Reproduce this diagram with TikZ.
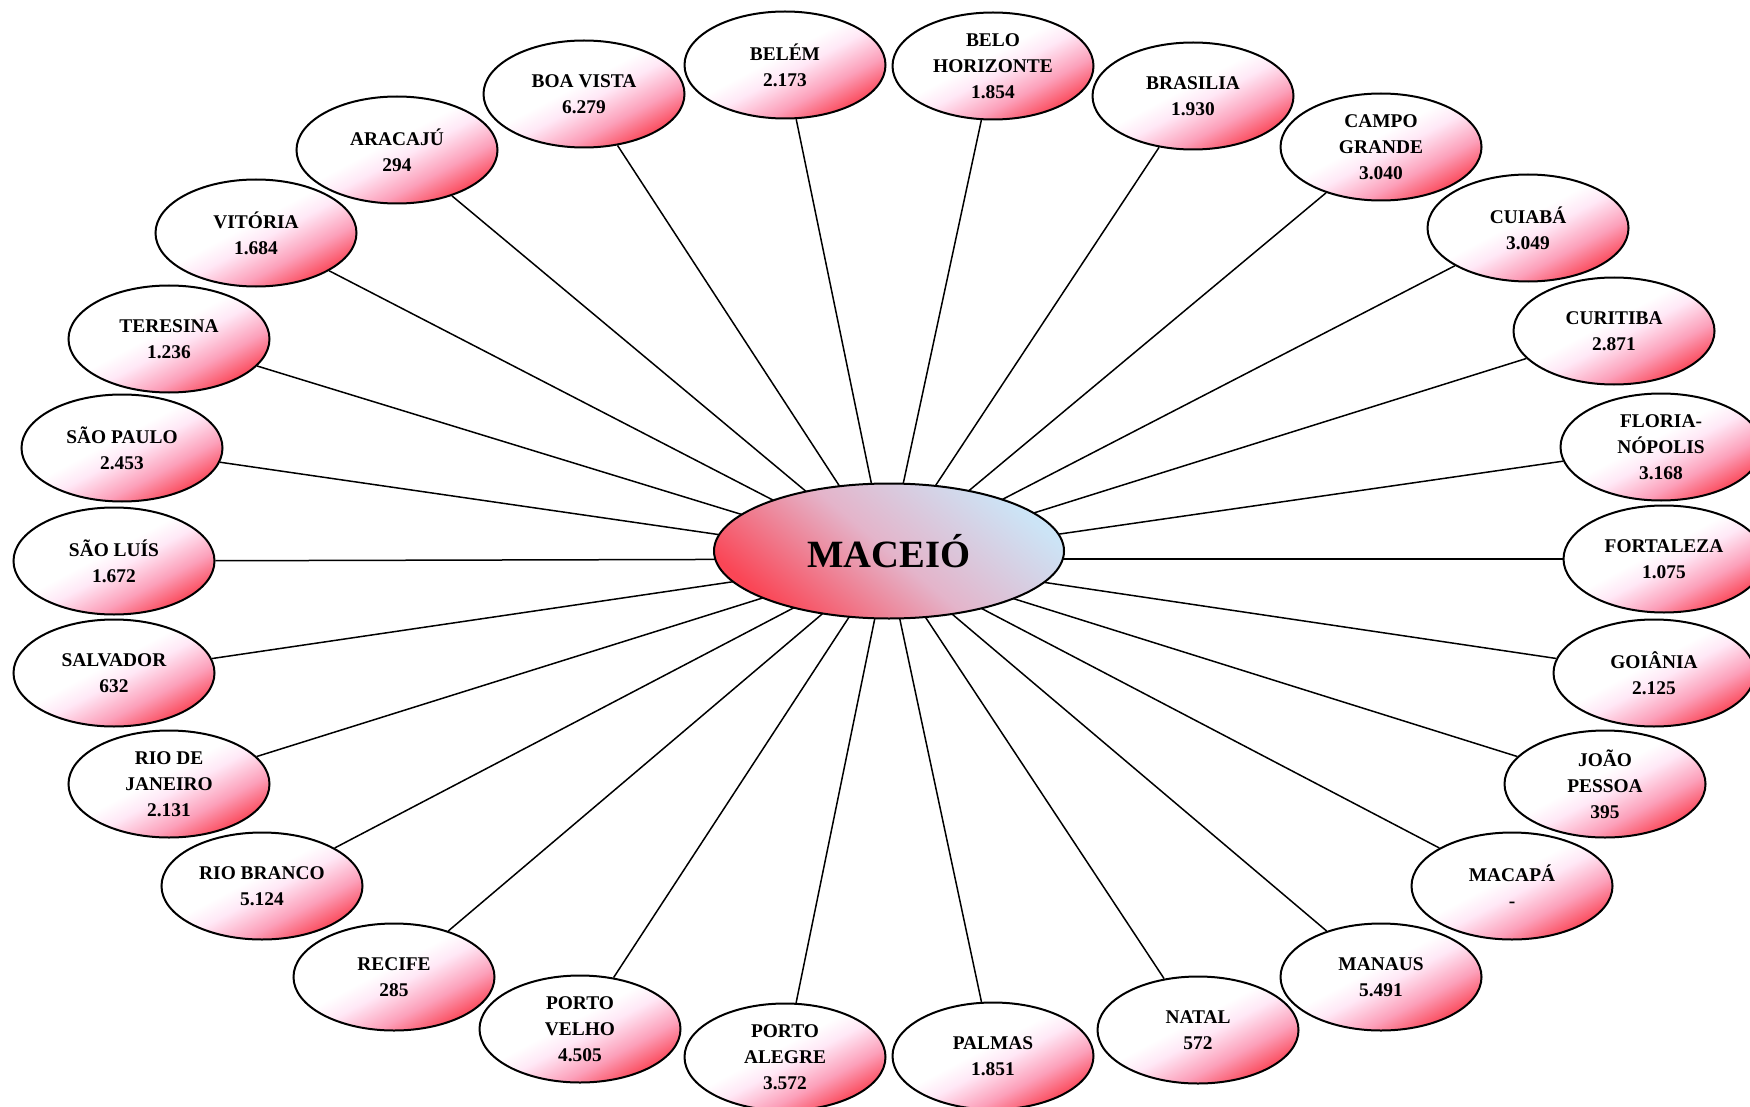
\documentclass[tikz,border=0pt]{standalone}
\usepackage{fontspec}
\setmainfont{Liberation Serif}
\usetikzlibrary{shapes.geometric}

\definecolor{cityred}{RGB}{250,66,82}
\definecolor{citypink}{RGB}{252,160,186}
\definecolor{citylight}{RGB}{255,232,246}
\definecolor{hubred}{RGB}{250,70,86}
\definecolor{hubmid}{RGB}{228,180,202}
\definecolor{hubblue}{RGB}{204,228,246}

\pgfdeclareverticalshading{cityfade}{100bp}{color(0bp)=(cityred); color(25bp)=(cityred); color(36bp)=(citypink); color(47bp)=(citylight); color(54bp)=(white); color(100bp)=(white)}
\pgfdeclareverticalshading{hubfade}{100bp}{color(0bp)=(hubred); color(25bp)=(hubred); color(50bp)=(hubmid); color(75bp)=(hubblue); color(100bp)=(hubblue)}

\begin{document}
\begin{tikzpicture}[x=0.5pt, y=-0.5pt,
    city/.style={ellipse, draw, line width=1pt, shading=cityfade, shading angle=28, minimum width=100.5pt, minimum height=53.5pt, inner sep=0pt, align=center, font={\fontsize{9.7}{12.9}\selectfont\bfseries}},
    capital/.style={ellipse, draw, line width=1pt, shading=hubfade, shading angle=-40, minimum width=175pt, minimum height=67.5pt, inner sep=0pt, font={\fontsize{19.3}{22}\selectfont\bfseries}},
    link/.style={line width=0.75pt}]
    \useasboundingbox (0,0) rectangle (1750,1107);

    % top arc
    \node (belem) [city] at (785,65) {BELÉM\\2.173};
    \node (belohorizonte) [city] at (993,66) {BELO\\HORIZONTE\\1.854};
    \node (boavista) [city] at (584,94) {BOA VISTA\\6.279};
    \node (brasilia) [city] at (1193,96) {BRASILIA\\1.930};
    \node (aracaju) [city] at (397,150) {ARACAJÚ\\294};
    \node (campogrande) [city] at (1381,147) {CAMPO\\GRANDE\\3.040};
    \node (vitoria) [city] at (256,233) {VITÓRIA\\1.684};
    \node (cuiaba) [city] at (1528,228) {CUIABÁ\\3.049};
    \node (teresina) [city] at (169,339) {TERESINA\\1.236};
    \node (curitiba) [city] at (1614,331) {CURITIBA\\2.871};
    \node (saopaulo) [city] at (122,448) {SÃO PAULO\\2.453};
    \node (florianopolis) [city] at (1661,447) {FLORIA-\\NÓPOLIS\\3.168};

    % middle row
    \node (saoluis) [city] at (114,561) {SÃO LUÍS\\1.672};
    \node (fortaleza) [city] at (1664,559) {FORTALEZA\\1.075};

    % bottom arc
    \node (salvador) [city] at (114,673) {SALVADOR\\632};
    \node (goiania) [city] at (1654,673) {GOIÂNIA\\2.125};
    \node (riodejaneiro) [city] at (169,784) {RIO DE\\JANEIRO\\2.131};
    \node (joaopessoa) [city] at (1605,784) {JOÃO\\PESSOA\\395};
    \node (riobranco) [city] at (262,886) {RIO BRANCO\\5.124};
    \node (macapa) [city] at (1512,886) {MACAPÁ\\-};
    \node (recife) [city] at (394,977) {RECIFE\\285};
    \node (manaus) [city] at (1381,977) {MANAUS\\5.491};
    \node (portovelho) [city] at (580,1029) {PORTO\\VELHO\\4.505};
    \node (natal) [city] at (1198,1030) {NATAL\\572};
    \node (portoalegre) [city] at (785,1057) {PORTO\\ALEGRE\\3.572};
    \node (palmas) [city] at (993,1056) {PALMAS\\1.851};

    \coordinate (meet) at (887,559);

    \draw[link] (meet) -- (belem);
    \draw[link] (meet) -- (belohorizonte);
    \draw[link] (meet) -- (boavista);
    \draw[link] (meet) -- (brasilia);
    \draw[link] (meet) -- (aracaju);
    \draw[link] (meet) -- (campogrande);
    \draw[link] (meet) -- (vitoria);
    \draw[link] (meet) -- (cuiaba);
    \draw[link] (meet) -- (teresina);
    \draw[link] (meet) -- (curitiba);
    \draw[link] (meet) -- (saopaulo);
    \draw[link] (meet) -- (florianopolis);
    \draw[link] (meet) -- (saoluis);
    \draw[link] (meet) -- (fortaleza);
    \draw[link] (meet) -- (salvador);
    \draw[link] (meet) -- (goiania);
    \draw[link] (meet) -- (riodejaneiro);
    \draw[link] (meet) -- (joaopessoa);
    \draw[link] (meet) -- (riobranco);
    \draw[link] (meet) -- (macapa);
    \draw[link] (meet) -- (recife);
    \draw[link] (meet) -- (manaus);
    \draw[link] (meet) -- (portovelho);
    \draw[link] (meet) -- (natal);
    \draw[link] (meet) -- (portoalegre);
    \draw[link] (meet) -- (palmas);

    % centre on top of the spokes
    \node (maceio) [capital] at (889,551) {MACEIÓ};
\end{tikzpicture}
\end{document}
